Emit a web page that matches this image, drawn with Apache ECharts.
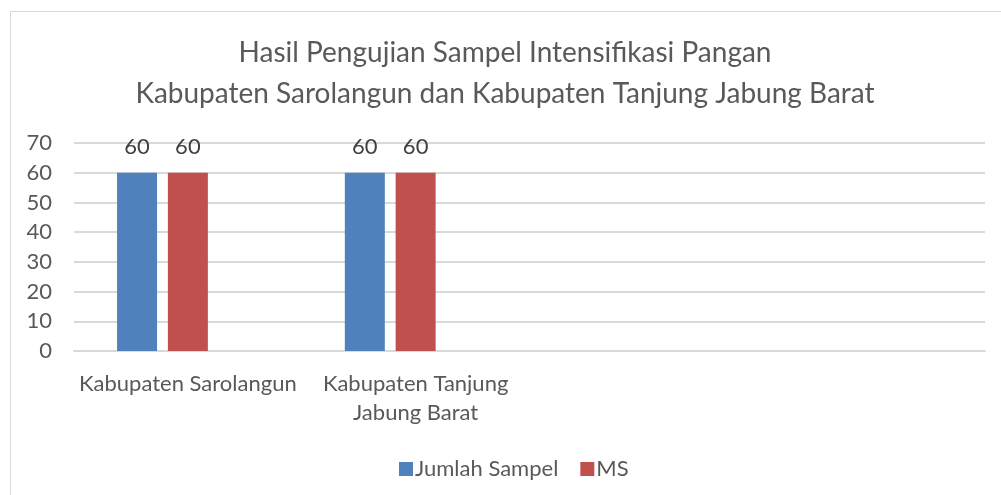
<!DOCTYPE html>
<html>
<head>
<meta charset="utf-8">
<script src="https://cdn.jsdelivr.net/npm/echarts@6/dist/echarts.min.js"></script>
<style>
  html, body { margin: 0; padding: 0; background: #fff; }
  #chart { width: 1001px; height: 495px; }
</style>
</head>
<body>
<div id="chart"></div>
<script>
// data
const categories = ['Kabupaten Sarolangun', 'Kabupaten Tanjung\nJabung Barat', '', '']
const jumlahSampel = [60, 60, '-', '-']
const ms = [60, 60, '-', '-']
const kosong = ['-', '-', '-', '-'] // third series, no values in the source
const yTicks = { min: 0, max: 70, interval: 10 }

const font = 'Lato'
const txt = '#595959'

const chart = echarts.init(document.getElementById('chart'))

const labelOpt = {
  show: true,
  position: 'top',
  distance: 15,
  color: '#404040',
  fontFamily: font,
  fontSize: 22
}

const option = {
  backgroundColor: '#fff',
  animation: false,
  title: {
    text: 'Hasil Pengujian Sampel Intensifikasi Pangan\nKabupaten Sarolangun dan Kabupaten Tanjung Jabung Barat',
    left: 500,
    textAlign: 'center',
    top: 27,
    textStyle: {
      color: txt,
      fontFamily: font,
      fontWeight: 'normal',
      fontSize: 28,
      lineHeight: 41
    }
  },
  legend: {
    data: ['Jumlah Sampel', 'MS'],
    left: 394,
    top: 453,
    itemWidth: 14,
    itemHeight: 14,
    itemGap: 22,
    icon: 'rect',
    textStyle: { color: txt, fontFamily: font, fontSize: 22, padding: [0, 0, 0, -3] }
  },
  graphic: [{
    type: 'rect',
    shape: { x: 10.5, y: 11.5, width: 1010, height: 500 },
    style: { fill: 'none', stroke: '#d9d9d9', lineWidth: 1 },
    silent: true
  }],
  grid: { left: 74, right: 16, top: 143, bottom: 144 },
  xAxis: {
    type: 'category',
    data: categories,
    axisLine: { show: true, lineStyle: { color: '#d9d9d9', width: 2 } },
    axisTick: { show: false },
    axisLabel: {
      color: txt,
      fontFamily: font,
      fontSize: 22,
      lineHeight: 29,
      margin: 18,
      interval: 0
    }
  },
  yAxis: {
    type: 'value',
    min: yTicks.min,
    max: yTicks.max,
    interval: yTicks.interval,
    axisLine: { show: false },
    axisTick: { show: false },
    splitLine: { lineStyle: { color: '#d9d9d9', width: 2 } },
    axisLabel: { color: txt, fontFamily: font, fontSize: 22, margin: 22 }
  },
  series: [
    {
      name: 'Jumlah Sampel',
      type: 'bar',
      data: jumlahSampel,
      barWidth: 40,
      barGap: '27%',
      itemStyle: { color: '#4f81bd' },
      label: labelOpt
    },
    {
      name: 'MS',
      type: 'bar',
      data: ms,
      barWidth: 40,
      barGap: '27%',
      itemStyle: { color: '#c0504d' },
      label: labelOpt
    },
    {
      name: '',
      type: 'bar',
      data: kosong,
      barWidth: 40,
      barGap: '27%',
      itemStyle: { color: '#9bbb59' }
    }
  ]
}

chart.setOption(option)
</script>
</body>
</html>
